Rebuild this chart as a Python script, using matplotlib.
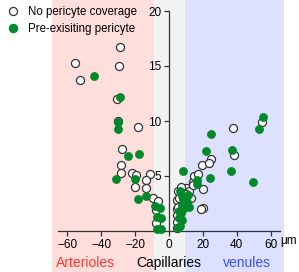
import matplotlib
matplotlib.use("Agg")
import matplotlib.pyplot as plt
import matplotlib.transforms as mtransforms
from matplotlib.patches import Rectangle
from matplotlib.lines import Line2D

plt.rcParams['font.family'] = ['Liberation Sans', 'DejaVu Sans']

# distance from capillary bed (um) and value, vessels without pericyte coverage
open_x = [-55.3, -52.8, -29.2, -29.4, -30.4, -29.8, -18.0, -27.8, -28.2, -28.2,
          -21.8, -19.4, -19.8, -11.2, -13.5, -13.5, -9.6, -6.3, -7.6, -7.6,
          5.5, 4.5, 6.1, 4.5, 5.5, 4.5, 4.5, 5.0, 10.0, 12.0, 10.0, 12.7,
          13.9, 14.3, 15.0, 17.3, 20.2, 19.8, 18.6, 19.6, 24.5, 23.7, 38.2,
          37.5, 55.1, 7.0]
open_y = [15.25, 13.7, 16.7, 15.0, 12.0, 10.0, 9.5, 7.5, 6.0, 5.25,
          5.3, 5.05, 4.0, 5.15, 4.6, 3.9, 3.0, 2.7, 1.9, 0.75,
          3.6, 2.8, 3.0, 2.0, 2.2, 1.5, 0.85, 0.3, 3.9, 3.6, 3.4, 3.0,
          4.5, 4.15, 5.0, 5.2, 3.85, 2.1, 2.0, 6.0, 6.55, 6.2, 6.9,
          9.4, 9.9, 4.0]

# vessels with pre-existing pericyte
peri_x = [-44.3, -29.0, -29.8, -30.0, -23.9, -17.8, -31.0, -19.8, -18.4, -13.5,
          -8.0, -5.3, -6.9, -4.9, -7.2, -5.0,
          8.4, 7.5, 6.5, 8.0, 9.4, 10.8, 12.0, 7.5, 10.4, 9.5, 8.5, 6.0, 7.0,
          6.1, 7.5, 5.5, 6.5, 16.3, 16.8, 24.1, 21.9, 24.7, 36.9, 36.5,
          49.8, 52.9, 55.5, 11.5]
peri_y = [14.1, 12.2, 9.9, 9.25, 6.8, 7.0, 4.7, 4.7, 2.9, 3.2,
          2.3, 2.05, 1.25, 1.15, 0.15, 0.2,
          5.5, 3.2, 3.6, 2.9, 2.9, 2.6, 2.2, 2.35, 2.5, 2.2, 2.0, 1.8, 1.6,
          1.15, 1.0, 0.25, 0.5, 4.6, 4.3, 4.8, 7.25, 8.85, 7.35, 5.5,
          4.5, 9.3, 10.4, 3.3]

regions = ['Arterioles', 'Capillaries', 'venules']
region_edges = [(-69, -9), (-9, 9.5), (9.5, 68)]
region_fill = ['#FFDEDC', '#F2F2F2', '#DEE0FF']
region_text = ['#FF3B2F', 'black', '#3A50FF']
region_label_x = [-49, 0, 46]

green = '#00892A'
axcol = '#333333'
ms = 5.8

fig = plt.figure(figsize=(2.99, 2.72), dpi=100)
ax = fig.add_axes([58 / 299, 41 / 272, 222 / 299, 220 / 272])
ax.set_facecolor('none')

trans = mtransforms.blended_transform_factory(ax.transData, fig.transFigure)
for (x0, x1), fc, name, tc, lx in zip(region_edges, region_fill, regions,
                                      region_text, region_label_x):
    ax.add_patch(Rectangle((x0, 0), x1 - x0, 1, transform=trans, facecolor=fc,
                           edgecolor='none', clip_on=False, zorder=0))
    ax.text(lx, 9 / 272, name, transform=trans, ha='center', va='center',
            fontsize=10, color=tc)

ax.plot(open_x, open_y, 'o', ms=ms, mfc='white', mec=axcol, mew=0.9,
        clip_on=False, zorder=3)
ax.plot(peri_x, peri_y, 'o', ms=ms, mfc=green, mec=green, mew=0.5,
        clip_on=False, zorder=4)

ax.set_xlim(-65.5, 65.5)
ax.set_ylim(0, 20)
ax.spines['top'].set_visible(False)
ax.spines['right'].set_visible(False)
ax.spines['left'].set_position(('data', 0))
ax.spines['left'].set_bounds(0, 20)
for s in ['left', 'bottom']:
    ax.spines[s].set_color(axcol)
    ax.spines[s].set_linewidth(0.9)
ax.set_xticks([-60, -40, -20, 0, 20, 40, 60])
ax.set_yticks([5, 10, 15, 20])
ax.tick_params(axis='both', color=axcol, width=0.9, length=3.6, pad=2,
               labelsize=8.5, direction='out')
ax.text(280 / 299, 31 / 272, 'μm', transform=fig.transFigure, ha='left',
        va='center', fontsize=8.5)

handles = [Line2D([], [], ls='none', marker='o', ms=ms, mfc='white', mec=axcol, mew=0.9),
           Line2D([], [], ls='none', marker='o', ms=ms, mfc=green, mec=green)]
ax.legend(handles, ['No pericyte coverage', 'Pre-exisiting pericyte'],
          loc='upper left', bbox_to_anchor=(8 / 299, 1 - 6 / 272),
          bbox_transform=fig.transFigure, frameon=False, fontsize=8.3,
          handlelength=0.8, handletextpad=0.9, labelspacing=0.45,
          borderaxespad=0, borderpad=0)

fig.savefig('out.png', dpi=100)
